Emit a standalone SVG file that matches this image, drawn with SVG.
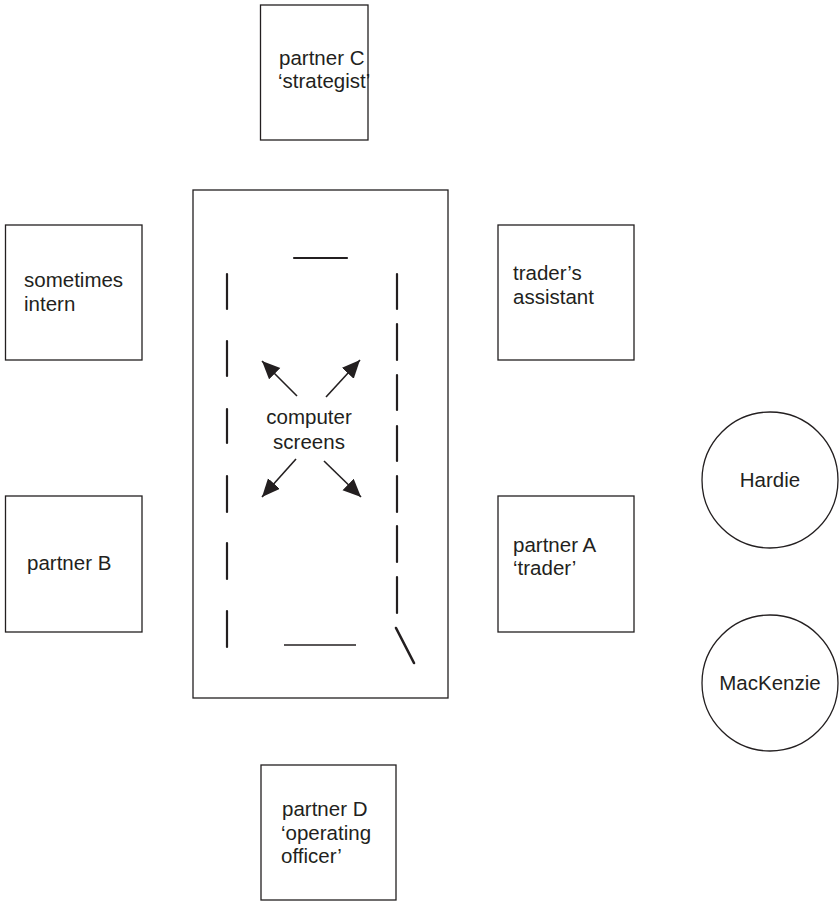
<svg xmlns="http://www.w3.org/2000/svg" width="840" height="903" viewBox="0 0 840 903">
<defs>
<style>
.box{fill:#fff;stroke:#231f20;stroke-width:1.3}
.t{font-family:"Liberation Sans",Arial,sans-serif;font-size:20.5px;fill:#231f20}
.tc{text-anchor:middle}
.dash{stroke:#231f20;stroke-width:2.2;stroke-linecap:round;fill:none}
.arr{stroke:#231f20;stroke-width:1.6;fill:none;marker-end:url(#ah)}
</style>
<marker id="ah" markerUnits="userSpaceOnUse" markerWidth="20" markerHeight="17" refX="18" refY="8" orient="auto">
<path d="M0,0 L18,8 L0,16 z" fill="#231f20"/>
</marker>
</defs>
<rect width="840" height="903" fill="#fff"/>

<g id="partnerC">
<rect class="box" x="260.5" y="5" width="107.5" height="135"/>
<text class="t" x="279" y="65">partner C</text>
<text class="t" x="278" y="88">‘strategist’</text>
</g>

<g id="sometimesIntern">
<rect class="box" x="5.5" y="225" width="136.5" height="135"/>
<text class="t" x="24" y="287">sometimes</text>
<text class="t" x="24" y="311">intern</text>
</g>

<g id="tradersAssistant">
<rect class="box" x="498" y="225" width="136" height="135"/>
<text class="t" x="513" y="280">trader’s</text>
<text class="t" x="513" y="304">assistant</text>
</g>

<g id="partnerB">
<rect class="box" x="5.5" y="496" width="136.5" height="136"/>
<text class="t" x="27" y="570">partner B</text>
</g>

<g id="partnerA">
<rect class="box" x="498" y="496" width="136" height="136"/>
<text class="t" x="513" y="552">partner A</text>
<text class="t" x="513" y="575">‘trader’</text>
</g>

<g id="partnerD">
<rect class="box" x="261" y="765" width="135" height="135"/>
<text class="t" x="282" y="816">partner D</text>
<text class="t" x="281" y="840">‘operating</text>
<text class="t" x="281" y="863">officer’</text>
</g>

<g id="hardie">
<circle class="box" cx="770" cy="480" r="68"/>
<text class="t tc" x="770" y="487">Hardie</text>
</g>

<g id="mackenzie">
<circle class="box" cx="770" cy="683" r="68"/>
<text class="t tc" x="770" y="690">MacKenzie</text>
</g>

<g id="table">
<rect class="box" x="193" y="190" width="255" height="508"/>
<line class="dash" x1="294" y1="258" x2="347" y2="258"/>
<line class="dash" x1="227" y1="274" x2="227" y2="309"/>
<line class="dash" x1="227" y1="341" x2="227" y2="376"/>
<line class="dash" x1="227" y1="409" x2="227" y2="443"/>
<line class="dash" x1="227" y1="476" x2="227" y2="512"/>
<line class="dash" x1="227" y1="543" x2="227" y2="579"/>
<line class="dash" x1="227" y1="611" x2="227" y2="647"/>
<line class="dash" x1="397" y1="274" x2="397" y2="309"/>
<line class="dash" x1="397" y1="324" x2="397" y2="360"/>
<line class="dash" x1="397" y1="375" x2="397" y2="410"/>
<line class="dash" x1="397" y1="426" x2="397" y2="461"/>
<line class="dash" x1="397" y1="476" x2="397" y2="512"/>
<line class="dash" x1="397" y1="526" x2="397" y2="562"/>
<line class="dash" x1="397" y1="577" x2="397" y2="613"/>
<line x1="284" y1="645" x2="356" y2="645" stroke="#231f20" stroke-width="1.4"/>
<line class="dash" x1="396" y1="628" x2="414" y2="663" style="stroke-width:2.6"/>
<text class="t tc" x="309" y="424">computer</text>
<text class="t tc" x="309" y="449">screens</text>
</g>

<g id="connectors">
<line class="arr" x1="297" y1="396" x2="262" y2="361"/>
<line class="arr" x1="326" y1="397" x2="360" y2="360"/>
<line class="arr" x1="296" y1="459" x2="262" y2="497"/>
<line class="arr" x1="324" y1="461" x2="361" y2="497"/>
</g>
</svg>
